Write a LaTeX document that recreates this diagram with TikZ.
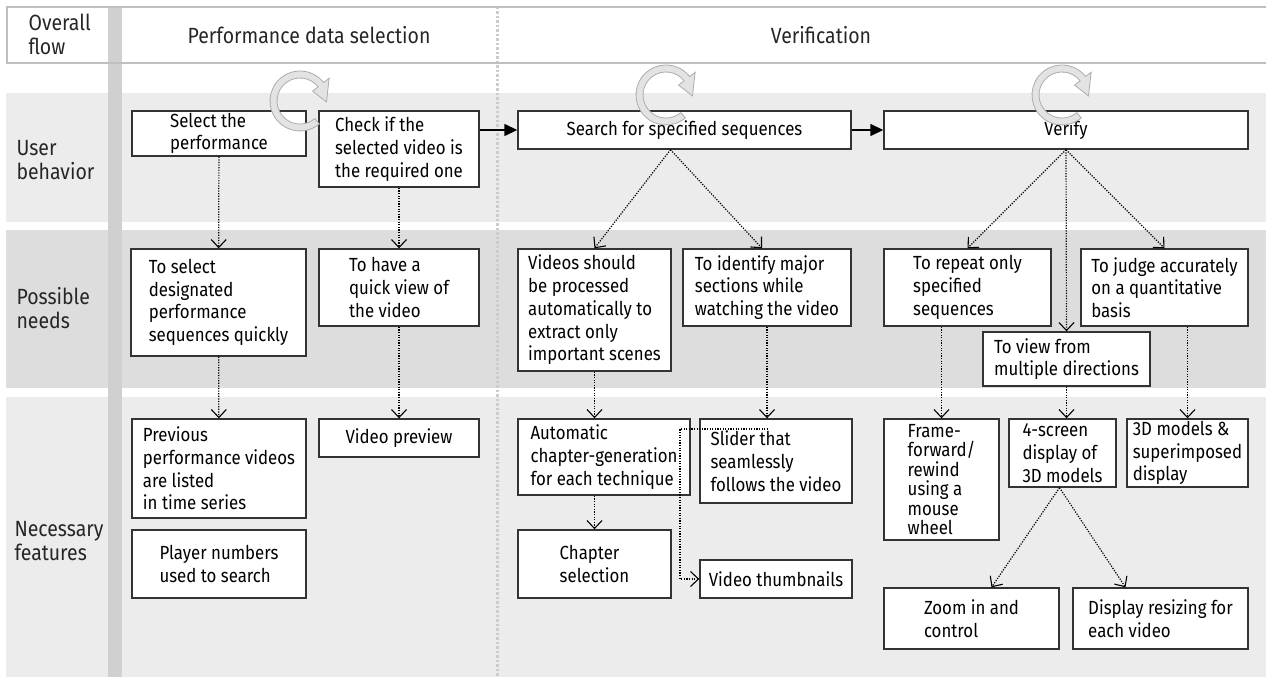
\documentclass[tikz,border=0pt]{standalone}
\usepackage{fontspec}
\setmainfont{Fira Sans}[FakeStretch=0.885]
\usepackage{tikz}
\usetikzlibrary{arrows.meta,positioning,calc}

\newcommand\boxtext{\fontsize{19}{22.7}\selectfont}
\newcommand\headtext{\fontsize{22}{24}\selectfont}

\begin{document}
\begin{tikzpicture}[
  x=1pt, y=-1pt, font=\boxtext,
  box/.style 2 args={draw=black!80, line width=1.4pt, fill=white, align=left, inner sep=2pt, minimum width=#1, minimum height=#2},
  rowlab/.style={font=\headtext, align=left, anchor=west, text=black!85},
  head/.style={font=\headtext, text=black!85},
  dotarrow/.style={dash pattern=on 1.2pt off 1.4pt, line width=1.2pt, -{Straight Barb[length=8pt, width=15pt, line width=1.1pt]}},
  flowarrow/.style={line width=1.4pt, -{Triangle[length=13pt, width=12pt]}},
  ring/.style={fill=gray!22, draw=gray!65, line width=0.8pt}]
\useasboundingbox (0,0) rectangle (1266,677);
% bands
\fill[gray!15] (6,93) rectangle (1266,222);
\fill[gray!27] (6,230) rectangle (1266,388);
\fill[gray!15] (6,397) rectangle (1266,677);
\fill[gray!37] (108,7) rectangle (122,677);
\draw[gray!40, line width=3pt, dash pattern=on 2.5pt off 2pt] (497,7) -- (497,677);
\draw[gray!50, line width=2pt] (1266,7) -- (7,7) -- (7,63) -- (1266,63);
% row labels
\node[rowlab] (flow) at (25,34) {Overall\\flow};
\node[rowlab] (behav) at (13,160) {User\\behavior};
\node[rowlab] (needs) at (13,308) {Possible\\needs};
\node[rowlab] (feats) at (11,541) {Necessary\\features};
\node[head] (hsel) at (309,35) {Performance data selection};
\node[head] (hver) at (821,35) {Verification};
% user behavior
\node[box={174}{45}] (sel) at (219,133.5) {Select the\\performance};
\node[box={160}{76}] (chk) at (399,149) {Check if the\\selected video is\\the required one};
\node[box={333}{38}] (search) at (684.5,130) {Search for specified sequences};
\node[box={364}{38}] (verify) at (1066,130) {Verify};
% possible needs
\node[box={175}{107}] (need1) at (218.5,302.5) {To select\\designated\\performance\\sequences quickly};
\node[box={160}{77}] (need2) at (399,287.5) {To have a\\quick view of\\the video};
\node[box={153}{122}] (need3) at (594.5,310) {Videos should\\be processed\\automatically to\\extract only\\important scenes};
\node[box={168}{77}] (need4) at (767,287.5) {To identify major\\sections while\\watching the video};
\node[box={167}{77}] (need5) at (967.5,287.5) {To repeat only\\specified\\sequences};
\node[box={167}{77}] (need6) at (1164.5,287.5) {To judge accurately\\on a quantitative\\basis};
\node[box={167}{54}] (need7) at (1066.5,359) {To view from\\multiple directions};
% necessary features
\node[box={174}{99}] (feat1) at (219,468.5) {Previous\\performance videos\\are listed\\in time series};
\node[box={174}{68}] (feat2) at (219,564) {Player numbers\\used to search};
\node[box={160}{38}] (feat3) at (399,438) {Video preview};
\node[box={172}{76}] (feat4) at (604,457) {Automatic\\chapter-generation\\for each technique};
\node[box={152}{84}] (feat5) at (776,461) {Slider that\\seamlessly\\follows the video};
\node[box={153}{68}] (feat6) at (594.5,564) {Chapter\\selection};
\node[box={152}{38}] (feat7) at (776,579) {Video thumbnails};
\node[box={115}{121}, font=\fontsize{19}{19.5}\selectfont] (feat8) at (941.5,479.5) {Frame-\\forward/\\rewind\\using a\\mouse\\wheel};
\node[box={107}{68}] (feat9) at (1062.5,453) {4-screen\\display of\\3D models};
\node[box={121}{68}] (feat10) at (1187.5,453) {3D models \&\\superimposed\\display};
\node[box={175}{61}] (feat11) at (971.5,618.5) {Zoom in and\\control};
\node[box={175}{61}] (feat12) at (1160.5,618.5) {Display resizing for\\each video};
% flow
\draw[flowarrow] (chk.east |- search.west) -- (search.west);
\draw[flowarrow] (search) -- (verify);
% needs and features
\draw[dotarrow] (sel) -- (need1);
\draw[dotarrow] (chk) -- (need2);
\draw[dotarrow] (need1) -- (feat1);
\draw[dotarrow] (need2) -- (feat3);
\coordinate (sapex) at ([xshift=-14pt]search.south);
\draw[dotarrow] (sapex) -- (need3.north);
\draw[dotarrow] (sapex) -- ([xshift=-5pt]need4.north);
\draw[dotarrow] (need3.south) -- (need3.south |- feat4.north);
\draw[dotarrow] (need4.south) -- (need4.south |- feat5.north);
\draw[dotarrow] (feat6.north |- feat4.south) -- (feat6.north);
\coordinate (brk) at (768,429);
\coordinate (bend) at (680,429);
\draw[dotarrow] (brk) -- (bend) |- (feat7.west);
\draw[dotarrow] (verify.south) -- (need5.north);
\draw[dotarrow] (verify.south) -- (need7.north);
\draw[dotarrow] (verify.south) -- (need6.north);
\draw[dotarrow] (feat8.north |- need5.south) -- (feat8.north);
\draw[dotarrow] (need7.south) -- (need7.south |- feat9.north);
\draw[dotarrow] (feat10.north |- need6.south) -- (feat10.north);
\draw[dotarrow] ([xshift=-3pt]feat9.south) -- ([xshift=20pt]feat11.north);
\draw[dotarrow] ([xshift=-3pt]feat9.south) -- ([xshift=-35pt]feat12.north);
% repeat marks
\foreach \cx/\cy in {300/101,666/95,1062/95}{
  \begin{scope}[shift={(\cx,\cy)}]
    \draw[ring] (-50:30pt) arc[start angle=-50, end angle=-322, radius=30pt]
      -- (38:37pt) -- (-2:26.5pt) -- (38:16pt) -- (38:23pt)
      arc[start angle=-322, end angle=-50, radius=23pt] -- cycle;
  \end{scope}
}
\end{tikzpicture}
\end{document}
